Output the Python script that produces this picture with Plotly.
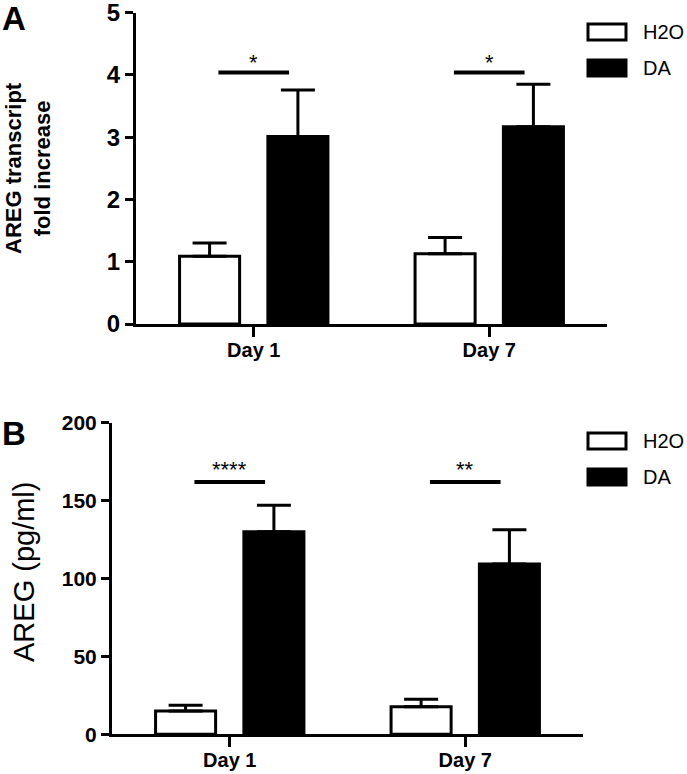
import plotly.graph_objects as go

W, H = 687, 774

# ---------------- data ----------------
days = ["Day 1", "Day 7"]
series = ["H2O", "DA"]
fills = ["white", "black"]

# Panel A: AREG transcript fold increase
a_h2o = [1.09, 1.13]
a_h2o_err = [0.21, 0.26]
a_da = [3.01, 3.17]
a_da_err = [0.75, 0.68]
a_sig_y = [4.04, 4.04]
a_sig_txt = ["*", "*"]
a_ticks = [0, 1, 2, 3, 4, 5]

# Panel B: AREG (pg/ml)
b_h2o = [15.0, 17.7]
b_h2o_err = [3.6, 4.8]
b_da = [130.0, 109.3]
b_da_err = [17.0, 22.0]
b_sig_y = [162, 162]
b_sig_txt = ["****", "**"]
b_ticks = [0, 50, 100, 150, 200]

FONT = "Liberation Sans, Arial, sans-serif"


def px_x(x):
    return x / W


def px_y(y):
    return 1 - y / H


fig = go.Figure()

panels = [
    dict(xa="x", ya="y", vals=[a_h2o, a_da], errs=[a_h2o_err, a_da_err]),
    dict(xa="x2", ya="y2", vals=[b_h2o, b_da], errs=[b_h2o_err, b_da_err]),
]

for p in panels:
    for name, fill, v, e in zip(series, fills, p["vals"], p["errs"]):
        fig.add_trace(go.Bar(
            x=days, y=v, name=name, xaxis=p["xa"], yaxis=p["ya"],
            marker=dict(color=fill, line=dict(color="black", width=3)),
            error_y=dict(type="data", symmetric=False, array=e,
                         arrayminus=[0] * len(e), color="black",
                         thickness=3, width=17),
            showlegend=False, offsetgroup=name,
        ))

axis_common = dict(showline=True, linecolor="black", linewidth=3,
                   showgrid=False, zeroline=False, ticks="outside",
                   tickcolor="black", tickwidth=3, mirror=False,
                   automargin=False, ticklabeloverflow="allow")

fig.update_layout(
    template="none",
    width=W, height=H,
    margin=dict(l=0, r=0, t=0, b=0, pad=0, autoexpand=False),
    paper_bgcolor="white", plot_bgcolor="white",
    showlegend=False,
    barmode="group", bargap=0.25, bargroupgap=0.32,
    font=dict(family=FONT, color="black"),
    xaxis=dict(domain=[px_x(136), px_x(607)], anchor="y", range=[-0.5, 1.5],
               ticklen=10, ticklabelstandoff=-4,
               tickfont=dict(size=20, family=FONT, weight="bold"), **axis_common),
    yaxis=dict(domain=[px_y(324), px_y(12.7)], anchor="x", range=[0, 5],
               tickvals=a_ticks, ticklen=8, ticklabelstandoff=0,
               tickfont=dict(size=24, family=FONT, weight="bold"), **axis_common),
    xaxis2=dict(domain=[px_x(112), px_x(583)], anchor="y2", range=[-0.5, 1.5],
                ticklen=10, ticklabelstandoff=-4,
                tickfont=dict(size=20, family=FONT, weight="bold"), **axis_common),
    yaxis2=dict(domain=[px_y(734.3), px_y(422.7)], anchor="x2", range=[0, 200],
                tickvals=b_ticks, ticklen=8, ticklabelstandoff=0,
                tickfont=dict(size=21, family=FONT, weight="bold"), **axis_common),
)

# significance bars and stars
for xa, ya, sy, st, shift in [("x", "y", a_sig_y, a_sig_txt, 10),
                              ("x2", "y2", b_sig_y, b_sig_txt, 12)]:
    for i, (yv, t) in enumerate(zip(sy, st)):
        fig.add_shape(type="line", xref=xa, yref=ya, x0=i - 0.15, x1=i + 0.15,
                      y0=yv, y1=yv, line=dict(color="black", width=4))
        fig.add_annotation(xref=xa, yref=ya, x=i, y=yv, text=t, showarrow=False,
                           yanchor="middle", yshift=shift,
                           font=dict(size=22, family=FONT, color="black"))

# custom legends
for top in [24, 433]:
    for k, (name, fill) in enumerate(zip(series, fills)):
        y0 = top + k * 36
        fig.add_shape(type="rect", xref="paper", yref="paper",
                      x0=px_x(588), x1=px_x(626), y0=px_y(y0), y1=px_y(y0 + 16),
                      fillcolor=fill, line=dict(color="black", width=3))
        fig.add_annotation(xref="paper", yref="paper", x=px_x(641), y=px_y(y0 + 8),
                           text=name, showarrow=False, xanchor="left", yanchor="middle",
                           font=dict(size=20, family=FONT, color="black"))

# axis titles
fig.add_annotation(xref="paper", yref="paper", x=px_x(28), y=px_y(168),
                   text="<b>AREG transcript<br>fold increase</b>", showarrow=False,
                   textangle=-90, xanchor="center", yanchor="middle",
                   font=dict(size=22, family=FONT, color="black"))
fig.add_annotation(xref="paper", yref="paper", x=px_x(24), y=px_y(572),
                   text="AREG (pg/ml)", showarrow=False,
                   textangle=-90, xanchor="center", yanchor="middle",
                   font=dict(size=29, family=FONT, color="black"))

# panel letters
fig.add_annotation(xref="paper", yref="paper", x=0, y=px_y(19),
                   text="<b>A</b>", showarrow=False, xanchor="left", yanchor="middle",
                   font=dict(size=33, family=FONT, color="black"))
fig.add_annotation(xref="paper", yref="paper", x=0, y=px_y(434),
                   text="<b>B</b>", showarrow=False, xanchor="left", yanchor="middle",
                   font=dict(size=33, family=FONT, color="black"))

# remove the default page margin so the figure fills the window exactly
fig.write_html("out.html", config={"displayModeBar": False},
               post_script="document.body.style.margin='0';"
                           "document.documentElement.style.overflow='hidden';")
